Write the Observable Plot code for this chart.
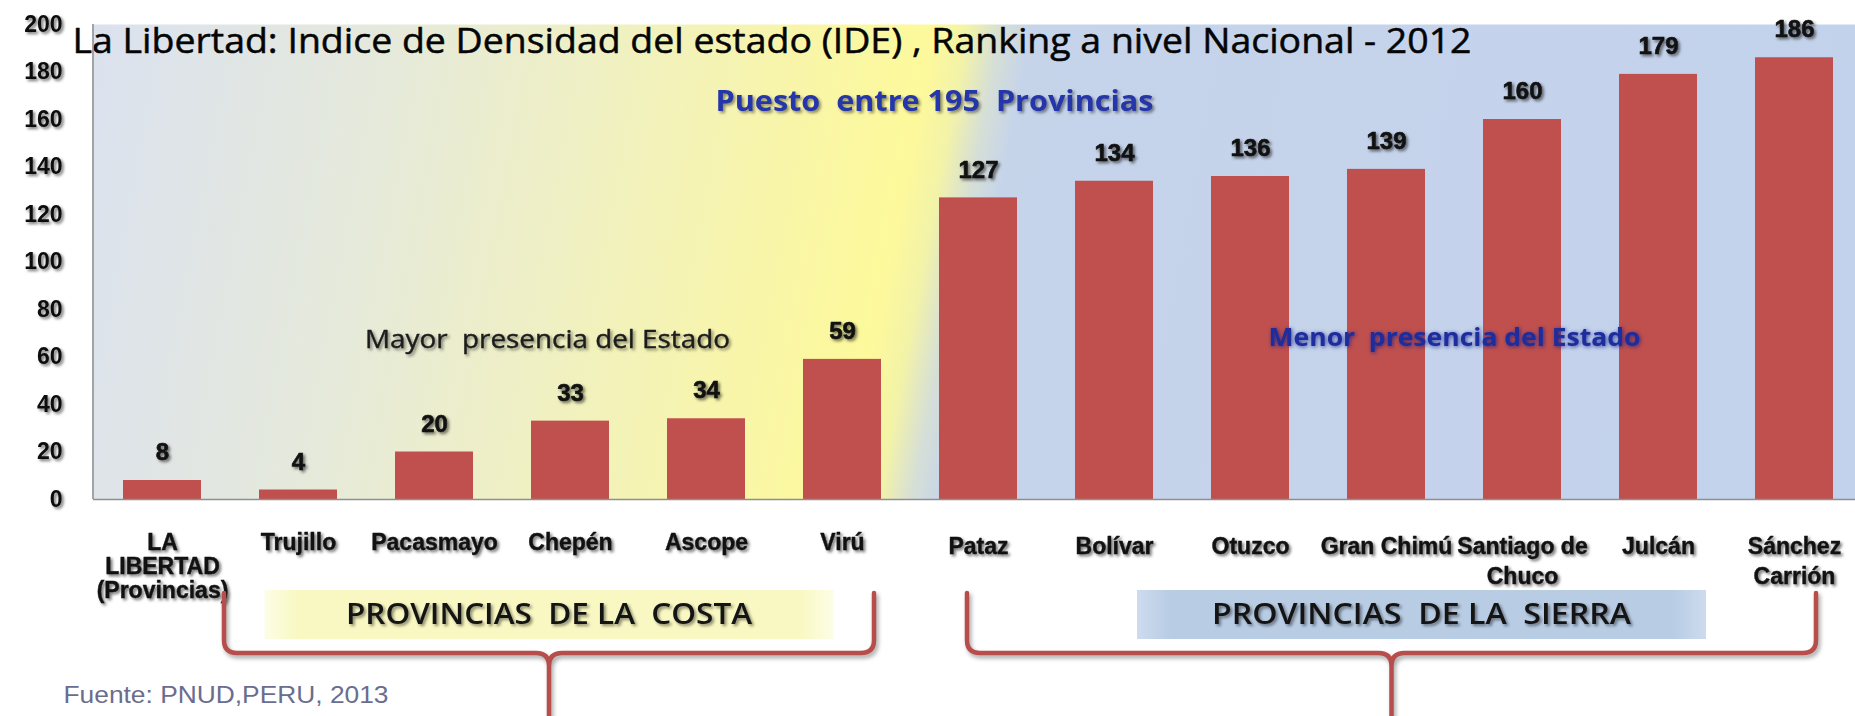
<!DOCTYPE html>
<html>
<head>
<meta charset="utf-8">
<script src="https://cdn.jsdelivr.net/npm/d3@7"></script>
<script src="https://cdn.jsdelivr.net/npm/@observablehq/plot@0.6"></script>
<style>
  html, body { margin: 0; padding: 0; background: #ffffff; }
  #chart svg text { white-space: pre; }
  #chart svg g[aria-description="values"] text,
  #chart svg g[aria-description="xlabels"] text,
  #chart svg g[aria-label="y-axis tick label"] text { filter: drop-shadow(2px 2px 1.6px rgba(0,0,0,0.55)); }
  #chart svg g[aria-description="subtitle"] text,
  #chart svg g[aria-description="note-mayor"] text,
  #chart svg g.groups text { filter: drop-shadow(2px 2px 1.6px rgba(0,0,0,0.45)); }
  #chart svg g[aria-description="note-menor"] text { filter: drop-shadow(1px 1px 2px rgba(20,30,140,0.8)); }
  #chart svg path.brace { filter: drop-shadow(2px 3px 2px rgba(0,0,0,0.35)); }
</style>
</head>
<body>
<div id="chart"></div>
<script>
// ---------------- data ----------------
const names = ["LA LIBERTAD (Provincias)", "Trujillo", "Pacasmayo", "Chepén", "Ascope", "Virú",
               "Pataz", "Bolívar", "Otuzco", "Gran Chimú", "Santiago de Chuco", "Julcán", "Sánchez Carrión"];
const labels = ["LA\nLIBERTAD\n(Provincias)", "Trujillo", "Pacasmayo", "Chepén", "Ascope", "Virú",
                "Pataz", "Bolívar", "Otuzco", "Gran Chimú", "Santiago de\nChuco", "Julcán", "Sánchez\nCarrión"];
const values = [8, 4, 20, 33, 34, 59, 127, 134, 136, 139, 160, 179, 186];
const region = ["costa", "costa", "costa", "costa", "costa", "costa",
                "sierra", "sierra", "sierra", "sierra", "sierra", "sierra", "sierra"];
const yTicks = [0, 20, 40, 60, 80, 100, 120, 140, 160, 180, 200];
const groupNames = ["PROVINCIAS  DE LA  COSTA", "PROVINCIAS  DE LA  SIERRA"];
const groupFirst = ["Trujillo", "Pataz"];
const groupLast = ["Virú", "Sánchez Carrión"];
const titleText = "La Libertad: Indice de Densidad del estado (IDE) , Ranking a nivel Nacional - 2012";
const subtitleText = "Puesto  entre 195  Provincias";
const noteMayor = "Mayor  presencia del Estado";
const noteMenor = "Menor  presencia del Estado";
const sourceText = "Fuente: PNUD,PERU, 2013";

const data = names.map((name, i) => ({name, label: labels[i], value: values[i], region: region[i]}));

// ---------------- chart ----------------
const W = 1855, H = 716;
const sans = "'Liberation Sans', Arial, sans-serif";
const humanist = "'Open Sans', 'Noto Sans', sans-serif";

const plot = Plot.plot({
  width: W,
  height: H,
  marginTop: 24,
  marginBottom: 217,
  marginLeft: 93,
  marginRight: 0,
  style: {background: "transparent", fontFamily: sans, overflow: "visible", color: "#111"},
  x: {domain: names, paddingInner: 0.43, paddingOuter: 0.19, align: 0.58, axis: null},
  y: {domain: [0, 200], axis: null, label: null},
  marks: [
    Plot.frame({fill: "url(#bgGrad)", stroke: null}),
    Plot.barY(data, {x: "name", y: "value", fill: "#c0504d"}),
    Plot.ruleY([0], {stroke: "#8f8f8f", strokeWidth: 1.6}),
    Plot.axisY({ticks: yTicks, label: null, tickSize: 0, tickPadding: 31, fontSize: 23, fontWeight: "bold",
                fill: "#0d0d0d", stroke: "#0d0d0d", strokeWidth: 0.5}),
    Plot.text(data, {x: "name", y: "value", text: d => String(d.value), dy: -28, fontSize: 24,
                     fontWeight: "bold", fill: "#111", stroke: "#111", strokeWidth: 0.6, ariaDescription: "values"}),
    Plot.text(data.filter(d => d.region === "costa"), {x: "name", text: "label", frameAnchor: "bottom",
              lineAnchor: "top", dy: 34, lineHeight: 1.04, fontSize: 23, fontWeight: "bold", fill: "#111",
              stroke: "#111", strokeWidth: 0.4, ariaDescription: "xlabels"}),
    Plot.text(data.filter(d => d.region === "sierra"), {x: "name", text: "label", frameAnchor: "bottom",
              lineAnchor: "top", dy: 33, lineHeight: 1.32, fontSize: 23, fontWeight: "bold", fill: "#111",
              stroke: "#111", strokeWidth: 0.4, ariaDescription: "xlabels"}),
    Plot.text([titleText], {frameAnchor: "top-left", lineAnchor: "top", textAnchor: "start", dx: -21, dy: 4,
              fontSize: 34, fontFamily: humanist, fill: "#050505", stroke: "#050505", strokeWidth: 0.5,
              ariaDescription: "title"}),
    Plot.text([subtitleText], {x: () => "Pataz", frameAnchor: "top", lineAnchor: "top", dx: -44, dy: 67,
              fontSize: 28, fontWeight: "bold", fontFamily: humanist, fill: "#2535aa", ariaDescription: "subtitle"}),
    Plot.text([noteMayor], {x: () => "Chepén", y: () => 67.3, dx: -23, fontSize: 25,
              fontFamily: humanist, fill: "#1c1c1c", stroke: "#1c1c1c", strokeWidth: 0.4,
              ariaDescription: "note-mayor"}),
    Plot.text([noteMenor], {x: () => "Gran Chimú", y: () => 67.8, dx: 68, fontSize: 25, fontWeight: "bold",
              fontFamily: humanist, fill: "#1e2d9e", ariaDescription: "note-menor"}),
    Plot.text([sourceText], {frameAnchor: "bottom-left", textAnchor: "start", dx: -30, dy: 203,
              fontSize: 24, fill: "#6a6d8e", ariaDescription: "source"})
  ]
});

document.getElementById("chart").appendChild(plot);

// ---------------- decorations driven by the plot's scales ----------------
const svg = d3.select(plot);
const sx = plot.scale("x");
const sy = plot.scale("y");
const bw = sx.bandwidth;
const cx = v => sx.apply(v) + bw / 2;
const [xLeft, xRight] = sx.range;
const yBase = sy.apply(0), yTop = sy.apply(200);

const defs = svg.insert("defs", ":first-child");
// background gradient (slanted yellow -> blue)
const tilt = 0.19;
const midY = (yBase + yTop) / 2;
const half = (xRight - xLeft) * tilt / 2;
const bg = defs.append("linearGradient").attr("id", "bgGrad").attr("gradientUnits", "userSpaceOnUse")
  .attr("x1", xLeft).attr("y1", midY - half).attr("x2", xRight).attr("y2", midY + half);
[[0.0, "#dbe2ee"], [0.15, "#e5e9dc"], [0.27, "#eff0c4"], [0.38, "#f8f5aa"], [0.452, "#fdf99b"],
 [0.472, "#f3f3a8"], [0.49, "#d6dfd6"], [0.507, "#c6d4ea"], [1.0, "#c3d2ec"]]
  .forEach(([o, c]) => bg.append("stop").attr("offset", o).attr("stop-color", c));

const boxGrad = (id, edge, mid) => {
  const g = defs.append("linearGradient").attr("id", id);
  [[0, edge], [0.06, mid], [0.94, mid], [1, edge]].forEach(([o, c]) =>
    g.append("stop").attr("offset", o).attr("stop-color", c));
};
boxGrad("gCosta", "#fdfde6", "#f9f8c2");
boxGrad("gSierra", "#cddbee", "#b8cce4");

// left axis line
svg.append("line").attr("x1", xLeft).attr("x2", xLeft).attr("y1", yTop).attr("y2", yBase)
  .attr("stroke", "#8f8f8f").attr("stroke-width", 1.6);

// group boxes, labels and braces
const layout = [
  {lOff: -74, rOff: 32, boxShift: 0, textLen: 406, fill: "url(#gCosta)"},
  {lOff: -11, rOff: 22, boxShift: 30, textLen: 419, fill: "url(#gSierra)"}
];
const gGroups = svg.append("g").attr("class", "groups");
groupNames.forEach((name, i) => {
  const L = cx(groupFirst[i]) + layout[i].lOff;
  const R = cx(groupLast[i]) + layout[i].rOff;
  const C = (L + R) / 2;
  const boxC = C + layout[i].boxShift;
  const boxW = 569;
  gGroups.append("rect").attr("x", boxC - boxW / 2).attr("y", yBase + 91).attr("width", boxW)
    .attr("height", 49).attr("fill", layout[i].fill);
  gGroups.append("text").attr("x", boxC).attr("y", yBase + 125).attr("text-anchor", "middle")
    .attr("font-family", humanist).attr("font-size", 29).attr("font-weight", 600).attr("fill", "#141414")
    .attr("textLength", layout[i].textLen).attr("lengthAdjust", "spacingAndGlyphs").text(name);
  const top = yBase + 94, h = yBase + 154, r = 13, bottom = H + 4;
  const d = `M${L},${top} V${h - r} Q${L},${h} ${L + r},${h} H${C - r} Q${C},${h} ${C},${h + r} V${bottom}` +
            ` M${R},${top} V${h - r} Q${R},${h} ${R - r},${h} H${C + r} Q${C},${h} ${C},${h + r}`;
  gGroups.append("path").attr("class", "brace").attr("d", d).attr("fill", "none")
    .attr("stroke", "#b84e4b").attr("stroke-width", 4.5).attr("stroke-linecap", "round")
    .attr("stroke-linejoin", "round");
});

// stretch long texts to the reference widths
const stretch = (key, len) => svg.selectAll(`g[aria-description="${key}"] text`)
  .attr("textLength", len).attr("lengthAdjust", "spacingAndGlyphs");
stretch("title", 1399);
stretch("subtitle", 438);
stretch("note-mayor", 365);
stretch("note-menor", 372);
stretch("source", 325);
</script>
</body>
</html>
